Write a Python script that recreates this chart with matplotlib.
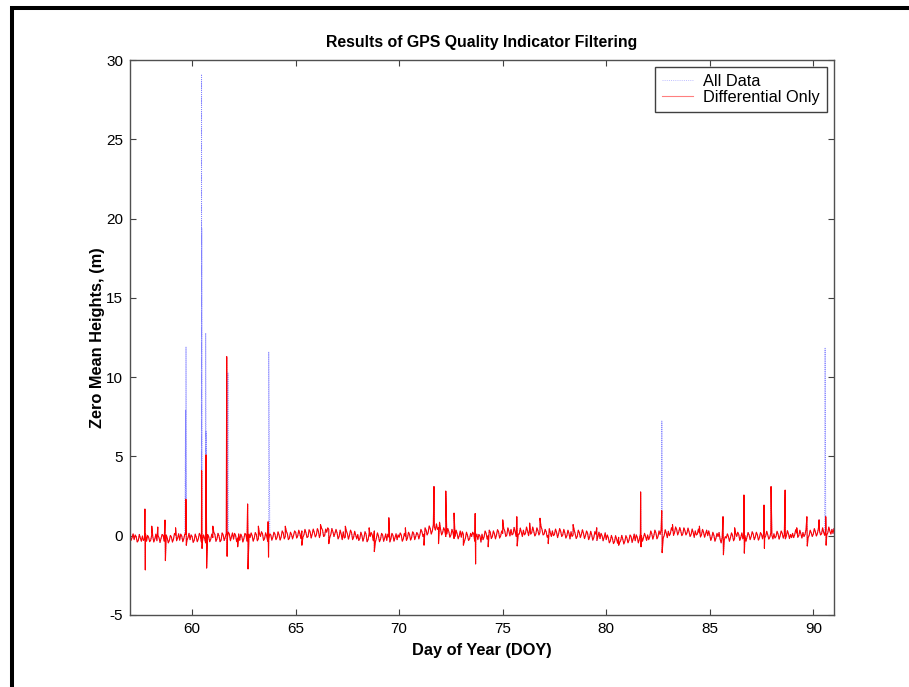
import matplotlib
matplotlib.use("Agg")
import matplotlib.pyplot as plt
import numpy as np
from matplotlib.lines import Line2D

# Baseline heights sampled every 0.1 day, one row per day (57.0 ... 91.0)
base_start = 57.0
base_step = 0.1
base_heights = [
    0.05, -0.12, -0.25, -0.08, -0.30, -0.15, -0.02, -0.22, -0.35, -0.10,
    -0.28, -0.05, -0.20, -0.32, -0.12, -0.18, 0.02, -0.25, -0.15, -0.30,
    -0.08, -0.22, 0.05, -0.15, -0.28, -0.02, -0.18, 0.08, -0.12, -0.25,
    -0.05, -0.30, -0.10, -0.20, 0.00, -0.35, -0.15, -0.25, -0.05, -0.22,
    -0.12, 0.08, -0.20, -0.02, -0.28, 0.05, -0.10, -0.18, 0.10, -0.08,
    -0.22, 0.02, -0.15, -0.30, -0.05, -0.18, 0.06, -0.25, -0.12, 0.00,
    -0.15, 0.08, -0.20, -0.05, 0.12, -0.18, -0.02, -0.25, 0.05, -0.10,
    0.10, -0.12, 0.05, -0.08, 0.18, -0.05, 0.12, -0.15, 0.08, 0.02,
    0.22, -0.02, 0.15, 0.30, 0.05, 0.18, -0.05, 0.25, 0.10, 0.20,
    0.05, 0.28, 0.12, 0.35, 0.00, 0.22, 0.40, 0.08, 0.25, 0.15,
    0.18, -0.05, 0.10, 0.25, -0.08, 0.12, 0.02, 0.20, -0.10, 0.05,
    0.08, -0.18, 0.02, -0.12, 0.10, -0.25, -0.05, 0.05, 0.30, -0.15,
    -0.02, -0.22, 0.05, -0.15, -0.30, -0.08, -0.20, 0.02, -0.12, -0.25,
    -0.10, 0.05, -0.20, -0.02, -0.15, 0.08, -0.12, 0.15, -0.05, 0.10,
    0.05, 0.25, 0.10, 0.35, 0.20, 0.45, 0.30, 0.55, 0.75, 0.50,
    0.40, 0.20, 0.35, 0.10, 0.25, 0.05, 0.18, -0.05, 0.12, 0.00,
    -0.10, 0.08, -0.15, 0.02, -0.20, -0.05, 0.10, -0.12, -0.25, -0.02,
    0.10, -0.08, 0.15, 0.00, 0.22, -0.05, 0.12, 0.05, 0.25, -0.02,
    0.15, 0.30, 0.05, 0.28, 0.40, 0.12, 0.25, 0.35, 0.10, 0.22,
    0.35, 0.15, 0.30, 0.42, 0.18, 0.28, 0.10, 0.32, 0.20, 0.38,
    0.10, 0.25, 0.02, 0.18, 0.30, 0.08, 0.22, 0.12, 0.28, 0.05,
    0.18, 0.00, 0.15, 0.25, 0.05, 0.12, -0.05, 0.20, 0.08, 0.15,
    0.02, 0.15, -0.08, 0.05, -0.12, 0.10, -0.05, -0.18, 0.00, -0.10,
    -0.25, -0.12, -0.32, -0.18, -0.38, -0.20, -0.10, -0.30, -0.22, -0.35,
    -0.15, -0.28, -0.05, -0.20, -0.32, -0.10, -0.22, 0.00, -0.12, -0.05,
    0.05, -0.08, 0.12, 0.00, 0.18, -0.05, 0.08, 0.20, 0.02, 0.15,
    0.28, 0.15, 0.35, 0.20, 0.40, 0.22, 0.30, 0.12, 0.32, 0.18,
    0.25, 0.08, 0.20, 0.30, 0.10, 0.18, 0.05, 0.22, 0.12, 0.00,
    0.05, -0.10, 0.02, -0.15, -0.05, -0.22, -0.10, -0.28, -0.15, -0.05,
    -0.12, 0.02, -0.18, -0.05, 0.08, -0.10, -0.20, 0.00, -0.08, 0.05,
    -0.05, 0.10, -0.08, 0.05, -0.12, 0.08, 0.15, -0.02, 0.06, -0.10,
    0.02, 0.12, -0.05, 0.10, 0.00, 0.15, 0.05, -0.02, 0.12, 0.08,
    0.15, 0.05, 0.18, 0.00, 0.12, 0.20, 0.08, 0.15, 0.02, 0.18,
    0.10, 0.25, 0.15, 0.30, 0.12, 0.22, 0.35, 0.18, 0.28, 0.40,
    0.45,
]

# In-between samples, 0.05 day after each baseline sample
mid_heights = [
    -0.30, 0.12, 0.05, -0.40, 0.08, -0.35, -0.30, 0.10, 0.02, -0.38,
    0.05, -0.40, 0.10, 0.02, -0.42, 0.08, -0.35, 0.05, -0.45, 0.02,
    -0.40, 0.15, -0.32, 0.12, 0.10, -0.38, 0.12, -0.30, 0.15, 0.05,
    -0.42, 0.10, -0.38, 0.15, -0.40, 0.05, -0.45, 0.08, -0.38, 0.10,
    0.20, -0.35, 0.15, -0.38, 0.18, -0.30, 0.15, 0.22, -0.32, 0.18,
    0.15, -0.38, 0.12, 0.10, -0.40, 0.15, -0.35, 0.10, 0.18, -0.35,
    0.20, -0.32, 0.15, 0.25, -0.30, 0.18, -0.35, 0.12, -0.28, 0.22,
    -0.25, 0.25, -0.28, 0.30, -0.20, 0.28, -0.25, 0.22, -0.20, 0.30,
    -0.15, 0.35, -0.18, -0.10, 0.40, -0.12, 0.38, -0.15, 0.42, -0.08,
    0.45, -0.12, 0.48, -0.05, 0.42, 0.50, -0.10, 0.45, -0.05, 0.40,
    -0.20, 0.35, -0.25, -0.15, 0.30, -0.22, 0.35, -0.25, 0.28, -0.20,
    -0.30, 0.22, -0.35, 0.25, -0.38, 0.15, 0.20, -0.32, -0.40, 0.18,
    -0.38, 0.15, -0.35, 0.12, 0.10, -0.40, 0.15, -0.35, 0.12, 0.05,
    0.18, -0.35, 0.15, -0.30, 0.22, -0.28, 0.25, -0.25, 0.20, -0.20,
    0.40, -0.05, 0.50, 0.05, 0.62, 0.10, 0.70, 0.35, 0.40, 0.85,
    0.05, 0.50, -0.05, 0.45, -0.10, 0.40, -0.18, 0.35, -0.20, 0.30,
    0.25, -0.35, 0.22, -0.30, 0.15, 0.22, -0.35, 0.10, 0.08, -0.40,
    -0.25, 0.30, -0.22, 0.35, -0.18, 0.30, -0.20, 0.38, -0.15, 0.30,
    0.45, -0.05, 0.50, -0.02, 0.05, 0.52, -0.05, 0.10, 0.48, -0.05,
    0.05, 0.55, 0.00, 0.10, 0.55, -0.02, 0.50, 0.05, 0.58, 0.05,
    0.40, -0.10, 0.45, -0.05, 0.00, 0.42, -0.12, 0.45, -0.05, 0.40,
    -0.15, 0.35, -0.20, -0.05, 0.38, -0.18, 0.35, -0.12, 0.38, -0.18,
    0.30, -0.25, 0.28, -0.28, 0.25, -0.30, 0.22, 0.15, -0.32, 0.18,
    0.05, -0.45, 0.02, -0.50, 0.00, -0.48, -0.42, 0.02, -0.52, 0.00,
    -0.45, 0.05, -0.42, 0.10, 0.05, -0.45, 0.12, -0.35, 0.15, -0.30,
    -0.25, 0.30, -0.22, 0.35, -0.20, 0.30, 0.35, -0.15, 0.38, -0.12,
    0.00, 0.50, 0.02, 0.55, 0.05, 0.52, 0.00, 0.50, 0.05, 0.48,
    -0.05, 0.42, -0.10, 0.05, 0.42, -0.08, 0.40, -0.10, 0.35, 0.30,
    -0.30, 0.22, -0.35, 0.15, 0.20, -0.45, 0.15, -0.05, 0.12, -0.35,
    0.18, -0.32, 0.15, 0.22, -0.30, 0.18, 0.10, -0.35, 0.20, -0.25,
    0.25, -0.25, 0.22, -0.28, 0.20, -0.20, -0.15, 0.28, -0.22, 0.20,
    -0.20, -0.15, 0.28, -0.22, 0.30, -0.15, -0.20, 0.32, -0.18, -0.12,
    -0.12, 0.38, -0.10, 0.35, -0.15, -0.05, 0.40, -0.12, 0.35, -0.05,
    0.45, -0.02, 0.48, 0.05, 0.50, 0.02, 0.05, 0.55, 0.10, 0.15,
]

# Spikes present in both series (differential solutions)
diff_spike_days = [
    57.72, 57.74, 58.05, 58.34, 58.69, 58.71, 59.2, 59.70, 59.72,
    60.46, 60.48, 60.67, 60.70, 61.0, 61.67, 61.69, 62.2, 62.68, 62.70,
    63.2, 63.67, 63.69, 64.5, 65.3, 66.2, 66.6, 67.4, 68.55, 68.8,
    69.5, 70.3, 71.2, 71.68, 71.9, 72.25, 72.65, 73.1, 73.67, 73.69,
    74.3, 75.0, 75.68, 75.70, 76.3, 76.8, 77.2, 78.4, 79.54, 80.6,
    81.66, 81.68, 82.68, 82.70, 83.2, 84.5, 85.64, 85.66, 86.2,
    86.65, 86.67, 87.62, 87.64, 87.96, 88.64, 89.2, 89.69, 89.71,
    90.28, 90.6, 90.62,
]
diff_spike_heights = [
    1.68, -2.16, 0.6, 0.55, 0.99, -1.57, 0.5, 2.3, -0.6,
    4.1, -0.8, 5.1, -2.04, 0.6, 11.29, -1.3, -0.7, 2.0, -2.1,
    0.6, 0.88, -1.35, 0.6, -0.6, 0.7, -0.5, 0.6, 0.5, -1.0,
    1.13, 0.5, -0.6, 3.1, -0.5, 2.82, 1.43, -0.6, 1.4, -1.78,
    -0.7, 1.0, 1.2, -0.65, 0.8, 1.1, -0.5, 0.7, 0.5, -0.6,
    2.76, -0.7, 1.58, -1.07, 0.7, 0.6, 1.2, -1.2, 0.5,
    2.57, -1.1, 1.93, -0.8, 3.1, 2.88, 0.5, 1.2, -0.65,
    1.0, 1.2, -0.6,
]

# Extra spikes that only appear in the unfiltered data
all_extra_days = [59.685, 59.705, 60.455, 60.465, 60.655, 60.675,
                  61.73, 63.70, 82.685, 90.57]
all_extra_heights = [7.93, 11.92, 29.1, 19.4, 12.78, 6.56,
                     10.26, 11.6, 7.23, 11.82]


def merge_series(days_a, heights_a, days_b, heights_b):
    days = np.concatenate([days_a, days_b])
    heights = np.concatenate([heights_a, heights_b])
    order = np.argsort(days, kind="stable")
    return days[order], heights[order]


base_days = base_start + base_step * np.arange(len(base_heights))
mid_days = base_start + base_step / 2 + base_step * np.arange(len(mid_heights))

quiet_days, quiet_heights = merge_series(
    base_days, np.array(base_heights), mid_days, np.array(mid_heights)
)
diff_days, diff_heights = merge_series(
    quiet_days, quiet_heights,
    np.array(diff_spike_days), np.array(diff_spike_heights),
)
all_days, all_heights = merge_series(
    diff_days, diff_heights,
    np.array(all_extra_days), np.array(all_extra_heights),
)

plt.rcParams["font.family"] = ["Liberation Sans", "DejaVu Sans"]
plt.rcParams["axes.unicode_minus"] = False

fig = plt.figure(figsize=(9.09, 6.87), dpi=100)
ax = fig.add_axes([130 / 909, 72 / 687, 704 / 909, 555 / 687])

ax.plot(all_days, all_heights, linestyle=(0, (1, 1.2)), color="#8080ff",
        linewidth=0.7, label="All Data")
ax.plot(diff_days, diff_heights, color="red", linewidth=0.8,
        label="Differential Only")

ax.set_xlim(57, 91)
ax.set_ylim(-5, 30)
ax.set_xticks([60, 65, 70, 75, 80, 85, 90])
ax.set_yticks([-5, 0, 5, 10, 15, 20, 25, 30])
ax.tick_params(direction="in", length=4.5, width=0.8, top=True, right=True,
               labelsize=11, color="#404040", pad=5)
for spine in ax.spines.values():
    spine.set_color("#505050")
    spine.set_linewidth(1.0)

ax.set_title("Results of GPS Quality Indicator Filtering", fontsize=11.4,
             fontweight="bold", pad=9)
ax.set_xlabel("Day of Year (DOY)", fontsize=11.8, fontweight="bold",
              labelpad=5)
ax.set_ylabel("Zero Mean Heights, (m)", fontsize=11.8, fontweight="bold",
              labelpad=1)

leg = ax.legend(loc="upper right", fontsize=11.8, fancybox=False,
                framealpha=1, edgecolor="#404040", borderaxespad=0.4,
                handlelength=1.9, handletextpad=0.6, borderpad=0.45,
                labelspacing=0.05)
leg.get_frame().set_linewidth(1.0)
for line in leg.get_lines():
    line.set_alpha(0.5)

# Black frame around the figure (left and top edges visible)
frame = Line2D([12 / 909, 12 / 909, 1.0], [0.0, 1 - 7.7 / 687, 1 - 7.7 / 687],
               transform=fig.transFigure, color="black", linewidth=2.9,
               solid_joinstyle="miter")
fig.add_artist(frame)

fig.savefig("out.png", dpi=100)
